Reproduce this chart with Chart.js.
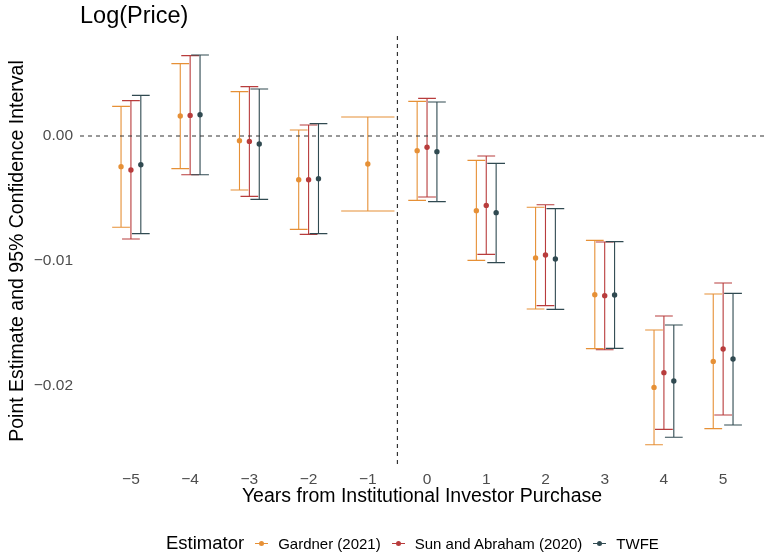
<!DOCTYPE html>
<html>
<head>
<meta charset="utf-8">
<script src="https://cdn.jsdelivr.net/npm/chart.js@4.4.1/dist/chart.umd.min.js"></script>
<style>
  body { margin: 0; background: #fff; font-family: "Liberation Sans", Arial, sans-serif; }
  #wrap { position: relative; width: 768px; height: 556px; }
  #title { position: absolute; left: 80px; top: 4px; font-size: 23.5px; line-height: 1; color: #000; }
  #legend { position: absolute; left: 166px; top: 531px; height: 24px; display: flex; align-items: center; color: #000; }
  #legend .head { font-size: 18.5px; margin-right: 11px; }
  #legend .lab { font-size: 15px; margin-left: 10px; margin-right: 11px; }
  .key { position: relative; display: inline-block; width: 13px; height: 12px; }
  .key .ln { position: absolute; left: 0; right: 0; top: 5.5px; height: 1px; }
  .key .dt { position: absolute; left: 4px; top: 3.5px; width: 5px; height: 5px; border-radius: 50%; }
</style>
</head>
<body>
<div id="wrap">
  <canvas id="chart"></canvas>
  <div id="title">Log(Price)</div>
  <div id="legend"></div>
</div>
<script>
// years relative to purchase
const years = [-5, -4, -3, -2, -1, 0, 1, 2, 3, 4, 5];
const xTicks = [-5, -4, -3, -2, -1, 0, 1, 2, 3, 4, 5];
const yTicks = [-0.02, -0.01, 0];

// Gardner (2021)
const gardnerEst = [-0.00245, 0.0016, -0.00037, -0.0035, -0.00224, -0.00117, -0.00597, -0.00976, -0.0127, -0.02011, -0.01803];
const gardnerLo = [-0.0073, -0.00261, -0.00432, -0.00747, -0.006, -0.00515, -0.00995, -0.01384, -0.01701, -0.0247, -0.02341];
const gardnerHi = [0.00237, 0.00579, 0.00355, 0.00048, 0.00152, 0.00277, -0.00195, -0.0057, -0.00835, -0.01552, -0.01264];

// Sun and Abraham (2020)
const sunEst = [-0.00272, 0.00165, -0.00043, -0.0035, null, -0.0009, -0.00555, -0.00952, -0.01277, -0.01893, -0.01704];
const sunLo = [-0.00824, -0.0031, -0.00483, -0.00787, null, -0.00488, -0.00947, -0.01357, -0.0171, -0.02347, -0.02232];
const sunHi = [0.00283, 0.00643, 0.00395, 0.00088, null, 0.00301, -0.0016, -0.0055, -0.00848, -0.0144, -0.01176];

// TWFE
const twfeEst = [-0.0023, 0.0017, -0.00064, -0.00341, null, -0.00125, -0.00613, -0.00984, -0.01272, -0.0196, -0.01784];
const twfeLo = [-0.00781, -0.0031, -0.00507, -0.00781, null, -0.00525, -0.01013, -0.01387, -0.01699, -0.0241, -0.02312];
const twfeHi = [0.00325, 0.00648, 0.00376, 0.00099, null, 0.00272, -0.00219, -0.00581, -0.00845, -0.01512, -0.01259];

const seriesNames = ["Gardner (2021)", "Sun and Abraham (2020)", "TWFE"];
const seriesColors = ["#E69036", "#B83C3C", "#304A51"];

const FONT = "'Liberation Sans', Arial, sans-serif";
const series = [
  [gardnerEst, gardnerLo, gardnerHi],
  [sunEst, sunLo, sunHi],
  [twfeEst, twfeLo, twfeHi],
];

// dodge like ggplot: width 0.5 shared by the estimators present in each year
const DODGE = 0.167;
function buildData(k) {
  const [est, lo, hi] = series[k];
  const out = [];
  years.forEach((yr, i) => {
    if (est[i] === null) return;
    const present = series.map(s => s[0][i] !== null);
    const n = present.filter(Boolean).length;
    let off = 0, half = 0.45;
    if (n > 1) {
      const pos = present.slice(0, k).filter(Boolean).length;
      off = (pos - (n - 1) / 2) * DODGE;
      half = 0.15;
    }
    out.push({ x: yr + off, y: est[i], lo: lo[i], hi: hi[i], half: half });
  });
  return out;
}

const minus = v => (v < 0 ? "\u2212" : "");

// error bars + dashed reference lines under the points
const errorBars = {
  id: "errorBars",
  beforeDatasetsDraw(chart) {
    const { ctx, scales: { x, y }, chartArea } = chart;
    ctx.save();
    ctx.lineWidth = 1.1;
    chart.data.datasets.forEach(ds => {
      ctx.strokeStyle = ds.backgroundColor;
      ds.data.forEach(p => {
        const xc = x.getPixelForValue(p.x);
        const x0 = x.getPixelForValue(p.x - p.half);
        const x1 = x.getPixelForValue(p.x + p.half);
        const yl = y.getPixelForValue(p.lo);
        const yh = y.getPixelForValue(p.hi);
        ctx.beginPath();
        ctx.moveTo(xc, yl); ctx.lineTo(xc, yh);
        ctx.moveTo(x0, yl); ctx.lineTo(x1, yl);
        ctx.moveTo(x0, yh); ctx.lineTo(x1, yh);
        ctx.stroke();
      });
    });
    ctx.strokeStyle = "#333";
    ctx.lineWidth = 1.2;
    ctx.setLineDash([4, 4]);
    const y0 = y.getPixelForValue(0);
    ctx.beginPath();
    ctx.moveTo(chartArea.left, y0); ctx.lineTo(chartArea.right + 1, y0);
    const xv = x.getPixelForValue(-0.5);
    ctx.moveTo(xv, chartArea.top); ctx.lineTo(xv, chartArea.bottom);
    ctx.stroke();
    ctx.restore();
  },
};

new Chart(document.getElementById("chart"), {
  type: "scatter",
  data: {
    datasets: seriesNames.map((name, k) => ({
      label: name,
      data: buildData(k),
      backgroundColor: seriesColors[k],
      borderWidth: 0,
      pointRadius: 2.7,
    })),
  },
  options: {
    responsive: true,
    maintainAspectRatio: false,
    animation: false,
    layout: { padding: { top: 36, right: 1, bottom: 46, left: 0 } },
    plugins: {
      legend: { display: false },
      tooltip: { enabled: false },
    },
    scales: {
      x: {
        type: "linear",
        min: -5.86,
        max: 5.69,
        grid: { display: false, drawTicks: false },
        border: { display: false },
        afterBuildTicks: s => { s.ticks = xTicks.map(v => ({ value: v })); },
        afterFit: s => { s.height = 44; },
        ticks: {
          color: "#4D4D4D",
          padding: 4,
          font: { family: FONT, size: 15.5 },
          callback: v => minus(v) + Math.abs(v),
        },
        title: {
          display: true,
          text: "Years from Institutional Investor Purchase",
          color: "#000",
          font: { family: FONT, size: 19.5 },
          padding: { top: 0, bottom: 2 },
        },
      },
      y: {
        min: -0.0264,
        max: 0.008,
        grid: { display: false, drawTicks: false },
        border: { display: false },
        afterBuildTicks: s => { s.ticks = yTicks.map(v => ({ value: v })); },
        afterFit: s => { s.width = 80; },
        ticks: {
          color: "#4D4D4D",
          padding: 7,
          font: { family: FONT, size: 15.5 },
          callback: v => minus(v) + Math.abs(v).toFixed(2),
        },
        title: {
          display: true,
          text: "Point Estimate and 95% Confidence Interval",
          color: "#000",
          font: { family: FONT, size: 19.5 },
          padding: { top: 6, bottom: 0 },
        },
      },
    },
  },
  plugins: [errorBars],
});

// legend row under the plot
const legend = document.getElementById("legend");
legend.innerHTML = '<span class="head">Estimator</span>' + seriesNames.map((name, k) =>
  '<span class="key"><span class="ln" style="background:' + seriesColors[k] + '"></span>' +
  '<span class="dt" style="background:' + seriesColors[k] + '"></span></span>' +
  '<span class="lab">' + name + '</span>').join("");
</script>
</body>
</html>
